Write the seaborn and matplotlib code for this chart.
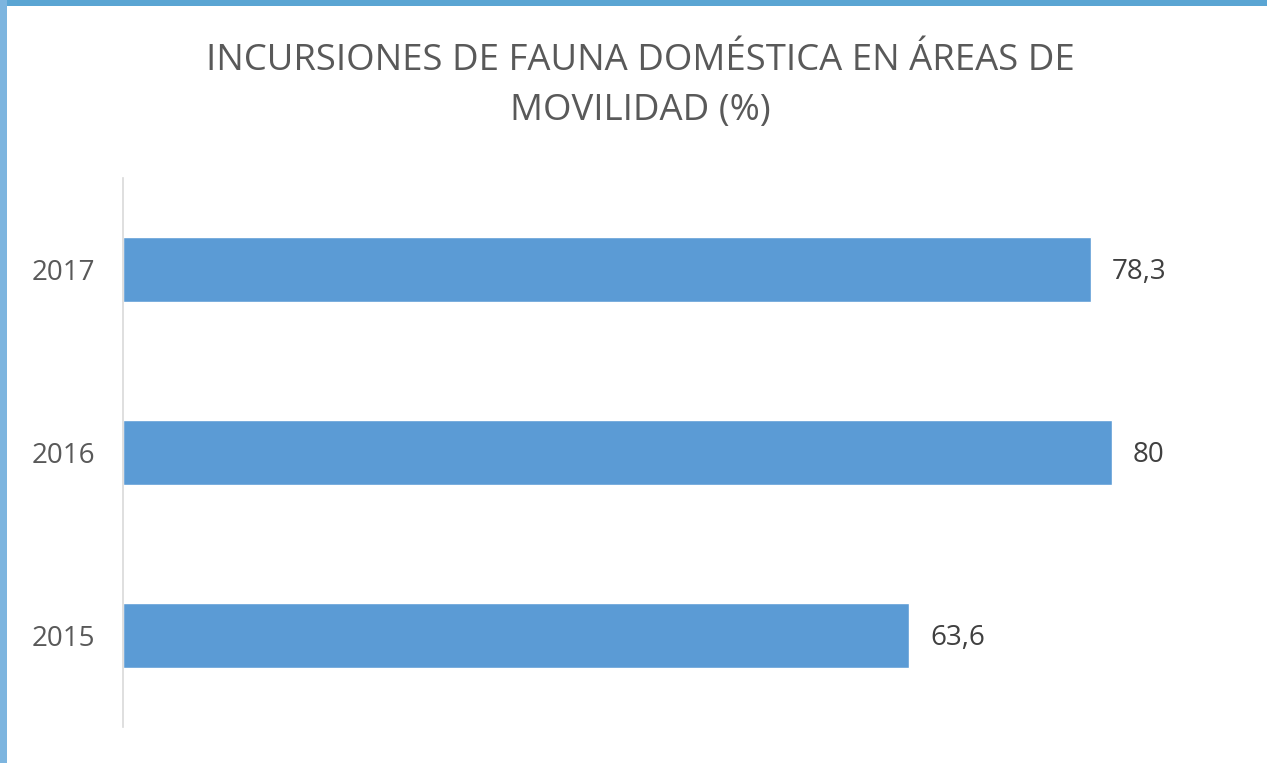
import matplotlib
matplotlib.use("Agg")
import matplotlib.pyplot as plt
import seaborn as sns
import pandas as pd
from matplotlib.patches import Rectangle

years = ["2017", "2016", "2015"]
values = [78.3, 80.0, 63.6]
value_labels = ["78,3", "80", "63,6"]
title = "INCURSIONES DE FAUNA DOMÉSTICA EN ÁREAS DE\nMOVILIDAD (%)"

sns.set_theme(style="white")
plt.rcParams["font.family"] = ["Open Sans", "DejaVu Sans"]

df = pd.DataFrame({"year": years, "value": values})

fig = plt.figure(figsize=(12.67, 7.63), dpi=100)
fig.patch.set_facecolor("#8DBDE3")
# white panel with blue frame on left and top
fig.patches.append(Rectangle((7 / 1267, 0), 1 - 7 / 1267, 1 - 6 / 763,
                             transform=fig.transFigure, facecolor="white",
                             edgecolor="none", zorder=-10))
fig.patches.append(Rectangle((0, 1 - 6 / 763), 1, 6 / 763,
                             transform=fig.transFigure, facecolor="#5AA5D3",
                             edgecolor="none", zorder=-10))
fig.patches.append(Rectangle((0, 0), 7 / 1267, 1,
                             transform=fig.transFigure, facecolor="#7DB5DF",
                             edgecolor="none", zorder=-10))

ax = fig.add_axes([123 / 1267, 36 / 763, (1190 - 123) / 1267, (727 - 178) / 763])
ax.set_zorder(5)
ax.set_facecolor("none")
sns.barplot(data=df, x="value", y="year", order=years, color="#5B9BD5",
            width=0.355, saturation=1, ax=ax)
ax.set_xlim(0, 86.3)
ax.set_ylim(2.5, -0.5)
ax.set_xlabel("")
ax.set_ylabel("")
ax.set_xticks([])
for s in ["top", "right", "bottom"]:
    ax.spines[s].set_visible(False)
ax.spines["left"].set_color("#D9D9D9")
ax.spines["left"].set_linewidth(1.2)
ax.tick_params(axis="y", length=0, pad=20, labelsize=20, labelcolor="#595959")

for i, (v, lab) in enumerate(zip(values, value_labels)):
    ax.annotate(lab, xy=(v, i), xytext=(15, -1.5), textcoords="offset points",
                va="center", ha="left", fontsize=20, color="#404040")

fig.text(640 / 1267, 1 - 86 / 763, title, ha="center", va="center",
         fontsize=26.3, color="#595959", linespacing=1.5, zorder=5)

fig.savefig("out.png", dpi=100, facecolor=fig.get_facecolor())
